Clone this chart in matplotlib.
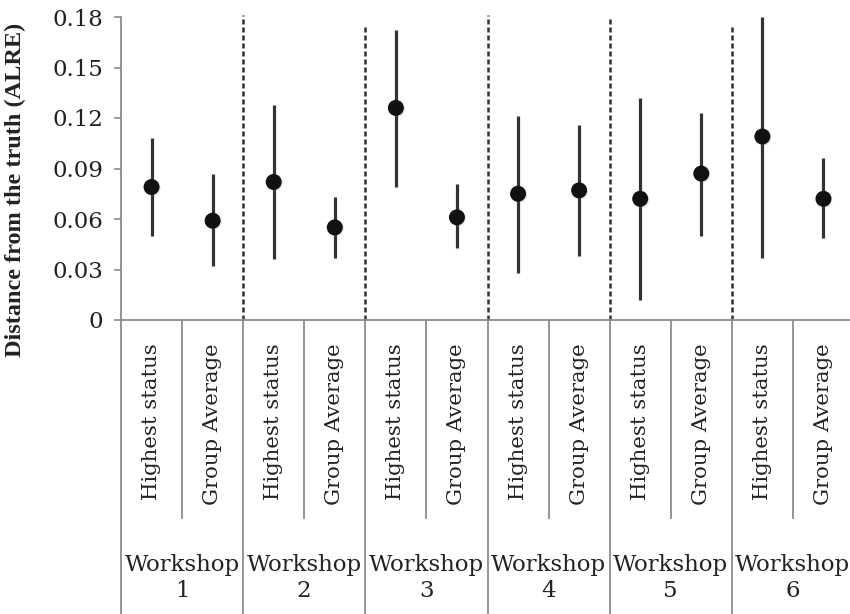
import matplotlib
matplotlib.use("Agg")
import matplotlib.pyplot as plt
import matplotlib.transforms as mtransforms
import matplotlib.patheffects as pe
import numpy as np

plt.rcParams['font.family'] = ['DejaVu Serif']

# Workshop groups and the two estimates compared in each
workshops = ["1", "2", "3", "4", "5", "6"]
conditions = ["Highest status", "Group Average"]

# ALRE point estimates with lower / upper interval bounds
# (order: HS1, GA1, HS2, GA2, ..., HS6, GA6)
alre_mean = [0.079, 0.059, 0.082, 0.055, 0.126, 0.061,
             0.075, 0.077, 0.072, 0.087, 0.109, 0.072]
alre_low = [0.050, 0.032, 0.036, 0.037, 0.079, 0.043,
            0.028, 0.038, 0.012, 0.050, 0.037, 0.049]
alre_high = [0.108, 0.087, 0.128, 0.073, 0.172, 0.081,
             0.121, 0.116, 0.132, 0.123, 0.180, 0.096]

y_ticks = [0, 0.03, 0.06, 0.09, 0.12, 0.15, 0.18]
y_ticklabels = ["0", "0.03", "0.06", "0.09", "0.12", "0.15", "0.18"]

axis_gray = "#8c8c8c"
text_col = "#222222"
mark_col = "#111111"

fig = plt.figure(figsize=(8.5, 6.14), dpi=100)
ax = fig.add_axes([121 / 850, 294 / 614, 733 / 850, 303 / 614])

n = len(workshops) * len(conditions)
x = np.arange(n)
mean = np.array(alre_mean)
low = np.array(alre_low)
high = np.array(alre_high)

# Interval whiskers
ax.errorbar(x, mean, yerr=[mean - low, high - mean], fmt="none",
            ecolor="#333333", elinewidth=2.3, capsize=0,
            clip_on=False, zorder=3)
# Point estimates with a soft drop shadow
ax.plot(x, mean, "o", color=mark_col, markersize=10.5, clip_on=False,
        zorder=4,
        path_effects=[pe.SimpleLineShadow(offset=(0.8, -0.8),
                                          shadow_color="gray", alpha=0.2),
                      pe.Normal()])

ax.set_xlim(-0.5, n - 0.5)
ax.set_ylim(0, 0.18)
ax.set_yticks(y_ticks)
ax.set_yticklabels(y_ticklabels)
ax.tick_params(axis="y", length=5, width=1.2, color=axis_gray,
               labelsize=16.5, labelcolor=text_col, pad=8)
ax.set_xticks([])

for side in ["top", "right"]:
    ax.spines[side].set_visible(False)
ax.spines["left"].set_color(axis_gray)
ax.spines["left"].set_linewidth(1.3)
ax.spines["bottom"].set_color(axis_gray)
ax.spines["bottom"].set_linewidth(1.3)

trans = mtransforms.blended_transform_factory(ax.transData, ax.transAxes)

# Dashed separators between workshops above the axis
divider_tops = [0.181, 0.175, 0.181, 0.180, 0.176]
for k, top in enumerate(divider_tops):
    xb = 2 * k + 1.5
    ax.plot([xb, xb], [0, top], ls=(0, (2.0, 1.2)), lw=1.8,
            color="#333333", zorder=2, clip_on=False)

# Category table below the axis
bottom_cell = -0.653
bottom_all = -0.975
for k in range(len(workshops) + 1):
    xb = 2 * k - 0.5
    ax.plot([xb, xb], [0, bottom_all], transform=trans, color=axis_gray,
            lw=1.3, clip_on=False)
for k in range(len(workshops)):
    xm = 2 * k + 0.5
    ax.plot([xm, xm], [0, bottom_cell], transform=trans, color=axis_gray,
            lw=1.3, clip_on=False)
    for j, cond in enumerate(conditions):
        ax.text(2 * k + j, -0.076, cond, transform=trans, rotation=90,
                ha="center", va="top", fontsize=15.3, color=text_col)
    ax.text(2 * k + 0.5, -0.852, "Workshop\n" + workshops[k], transform=trans,
            ha="center", va="center", fontsize=16.5, color=text_col,
            linespacing=1.25)

fig.text(15 / 850, 1 - 190 / 614, "Distance from the truth (ALRE)",
         rotation=90, ha="center", va="center", fontsize=17.5,
         fontweight="bold", color=text_col,
         family=["Liberation Serif", "DejaVu Serif"])

fig.savefig("out.png", dpi=100)
